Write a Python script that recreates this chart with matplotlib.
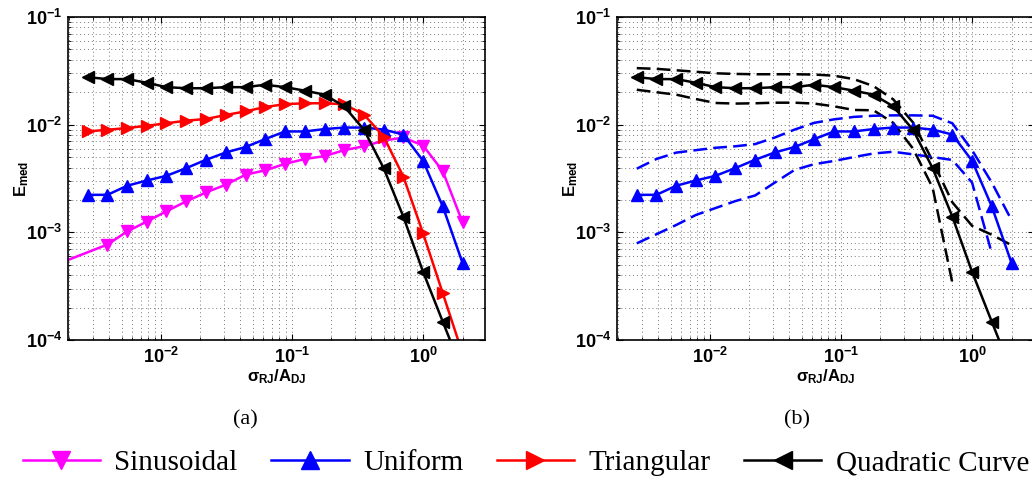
import numpy as np
import matplotlib
matplotlib.use('Agg')
import matplotlib.pyplot as plt
from matplotlib.ticker import LogLocator, NullFormatter, FixedFormatter, FixedLocator

plt.rcParams['mathtext.fontset'] = 'custom'
plt.rcParams['mathtext.rm'] = 'Liberation Sans:bold'
plt.rcParams['mathtext.bf'] = 'Liberation Sans:bold'
plt.rcParams['mathtext.it'] = 'Liberation Sans:bold'
plt.rcParams['mathtext.sf'] = 'Liberation Sans:bold'

# sigma_RJ / A_DJ
sigma_ratio = [0.00276, 0.0039, 0.00552, 0.0078, 0.011, 0.0156, 0.0221, 0.03125, 0.0442, 0.0625,
               0.0884, 0.125, 0.177, 0.25, 0.354, 0.5, 0.707, 1.0, 1.414, 2.0]
sin_ratio = [0.00138] + sigma_ratio[1:]

sinusoidal = [4.7e-4, 7.7e-4, 1.02e-3, 1.26e-3, 1.57e-3, 1.94e-3, 2.35e-3, 2.77e-3, 3.43e-3, 3.77e-3,
              4.32e-3, 4.8e-3, 5.1e-3, 5.8e-3, 6.3e-3, 7.1e-3, 7.6e-3, 6.4e-3, 3.7e-3, 1.24e-3]
uniform = [0.00223, 0.00223, 0.00271, 0.00303, 0.00335, 0.00395, 0.00472, 0.00552, 0.0062, 0.00735,
           0.00865, 0.00865, 0.0091, 0.0094, 0.0094, 0.0090, 0.0081, 0.00462, 0.00174, 5.2e-4]
triangular = [0.00865, 0.00897, 0.0093, 0.00977, 0.0103, 0.0109, 0.0113, 0.0123, 0.0133, 0.0146,
              0.0155, 0.0158, 0.0158, 0.0155, 0.0124, 0.00776, 0.0033, 9.8e-4, 2.72e-4, 7.5e-5]
quadratic = [0.0276, 0.0265, 0.0265, 0.0245, 0.0223, 0.0218, 0.0218, 0.0223, 0.0223, 0.0235,
             0.0223, 0.0207, 0.0190, 0.0148, 0.00897, 0.00395, 0.0014, 4.3e-4, 1.48e-4, 5.1e-5]

# bounds, panel (b)
quad_upper = [0.0335, 0.033, 0.032, 0.031, 0.030, 0.0296, 0.0294, 0.0294, 0.0294, 0.0292,
              0.0285, 0.0265, 0.0228, 0.0172, 0.0105, 0.0046, 0.0019, 0.00115, 9.5e-4, 7.6e-4]
quad_lower = [0.0211, 0.0200, 0.0190, 0.0173, 0.0159, 0.0157, 0.0158, 0.0160, 0.0160, 0.0157,
              0.0148, 0.0137, 0.0136, 0.0104, 0.0060, 0.0026, 3.4e-4, np.nan, np.nan, np.nan]
unif_upper = [0.0039, 0.0048, 0.0055, 0.0058, 0.0061, 0.0063, 0.0066, 0.0076, 0.0090, 0.0104,
              0.0112, 0.0118, 0.0121, 0.0122, 0.0122, 0.0121, 0.0103, 0.0058, 0.0029, 0.0013]
unif_lower = [7.9e-4, 9.6e-4, 1.17e-3, 1.45e-3, 1.68e-3, 1.95e-3, 2.2e-3, 2.9e-3, 3.8e-3, 4.3e-3,
              4.6e-3, 5.0e-3, 5.4e-3, 5.6e-3, 5.3e-3, 5.0e-3, 4.7e-3, 2.9e-3, 6.4e-4, np.nan]

labels = ['Sinusoidal', 'Uniform', 'Triangular', 'Quadratic Curve']

fig = plt.figure(figsize=(10.32, 4.82), dpi=100)
axa = fig.add_axes([68/1032, 1-340/482, 417/1032, 323/482])
axb = fig.add_axes([617/1032, 1-340/482, 417/1032, 323/482])

lw = 1.8
ms = 9
dash = (0, (5.5, 2.5))


def style(ax):
    ax.set_xscale('log')
    ax.set_yscale('log')
    ax.set_xlim(0.00195, 2.97)
    ax.set_ylim(1e-4, 1e-1)
    ax.xaxis.set_major_locator(FixedLocator([1e-2, 1e-1, 1]))
    ax.xaxis.set_major_formatter(FixedFormatter([r'$10^{-2}$', r'$10^{-1}$', r'$10^{0}$']))
    ax.yaxis.set_major_locator(FixedLocator([1e-4, 1e-3, 1e-2, 1e-1]))
    ax.yaxis.set_major_formatter(FixedFormatter([r'$10^{-4}$', r'$10^{-3}$', r'$10^{-2}$', r'$10^{-1}$']))
    ax.xaxis.set_minor_locator(LogLocator(base=10, subs=np.arange(2, 10)))
    ax.yaxis.set_minor_locator(LogLocator(base=10, subs=np.arange(2, 10)))
    ax.xaxis.set_minor_formatter(NullFormatter())
    ax.yaxis.set_minor_formatter(NullFormatter())
    ax.grid(True, which='both', linestyle=(0, (1, 3)), color='#777777', linewidth=0.7)
    ax.tick_params(which='both', direction='in', top=True, right=True, labelsize=13)
    ax.tick_params(which='major', length=4)
    ax.tick_params(which='minor', length=2)
    ax.tick_params(axis='x', pad=5)
    ax.tick_params(axis='y', pad=4)
    for s in ax.spines.values():
        s.set_linewidth(1.2)
    ax.set_xlabel(r'$\sigma_{RJ}/A_{DJ}$', fontsize=12, labelpad=0)
    ax.set_ylabel(r'$E_{med}$', fontsize=12, labelpad=-4)


style(axa)
style(axb)

h1, = axa.plot(sin_ratio, sinusoidal, color='#ff00ff', lw=lw, marker='v', ms=ms)
h2, = axa.plot(sigma_ratio, uniform, color='#0000ff', lw=lw, marker='^', ms=ms)
h3, = axa.plot(sigma_ratio, triangular, color='#ff0000', lw=lw, marker='>', ms=ms)
h4, = axa.plot(sigma_ratio, quadratic, color='black', lw=lw, marker='<', ms=ms)

axb.plot(sigma_ratio, quad_upper, color='black', lw=lw, linestyle=dash)
axb.plot(sigma_ratio, quad_lower, color='black', lw=lw, linestyle=dash)
axb.plot(sigma_ratio, unif_upper, color='#0000ff', lw=lw, linestyle=dash)
axb.plot(sigma_ratio, unif_lower, color='#0000ff', lw=lw, linestyle=dash)
axb.plot(sigma_ratio, uniform, color='#0000ff', lw=lw, marker='^', ms=ms)
axb.plot(sigma_ratio, quadratic, color='black', lw=lw, marker='<', ms=ms)

fig.text(245/1032, 1-420/482, '(a)', ha='center', va='center', fontsize=16, family='Liberation Serif')
fig.text(797/1032, 1-420/482, '(b)', ha='center', va='center', fontsize=16, family='Liberation Serif')

fig.legend([h1, h2, h3, h4], labels, loc='center', bbox_to_anchor=(0.5 + 10/1032, 1-463/482), ncol=4,
           frameon=False, prop={'family': 'Liberation Serif', 'size': 21},
           handlelength=2.65, handletextpad=0.5, columnspacing=1.15, markerscale=1.4)

fig.savefig('out.png', dpi=100)
